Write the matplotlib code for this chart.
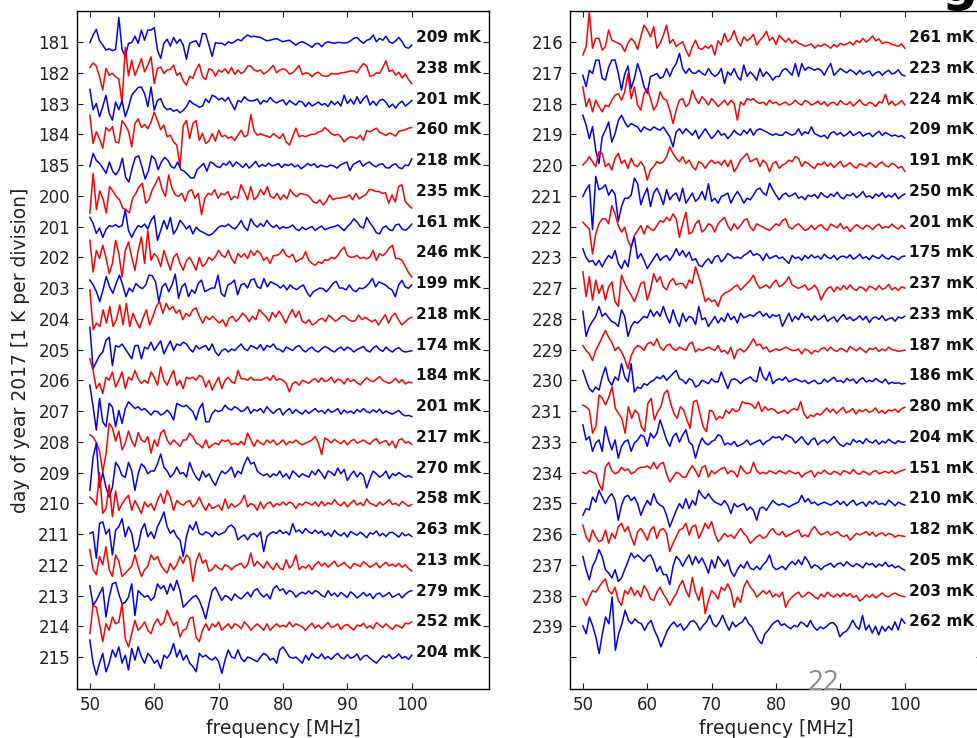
import numpy as np
import matplotlib
matplotlib.use("Agg")
import matplotlib.pyplot as plt

# Residual spectra, one list per day, in units of 10 mK, sampled evenly 50-100 MHz
d181 = [-2,23,41,4,-10,-26,-22,-28,-24,80,-24,-47,-4,-2,19,-4,39,6,39,39,47,-26,-53,-4,9,-13,15,-4,9,-10,-56,-4,1,4,-15,28,26,-10,-47,-2,-4,-4,-10,1,-4,1,9,4,15,23,17,19,17,15,9,4,6,9,11,6,1,4,6,-2,-10,-2,1,-4,-10,-17,-6,-4,-15,-4,1,-2,-4,-1,-2,-3,-2,4,12,15,4,-4,6,9,23,1,12,6,19,1,-4,4,15,1,-17,-20,-10]
d182 = [17,32,22,-13,-56,14,-8,-2,-13,-20,-99,83,-10,41,-8,17,46,3,25,52,-35,14,19,-2,9,11,25,-8,0,-26,-40,-11,-18,11,28,-13,-22,13,9,-11,9,2,13,-2,17,-5,9,-2,4,22,22,9,5,9,-4,3,13,24,0,9,13,9,-4,0,11,24,-6,0,-2,-13,-2,2,-8,-11,-11,-2,-4,-4,0,1,3,6,6,0,17,30,22,-11,-9,0,-2,17,39,4,9,-8,2,-17,-4,-22,-35]
d183 = [46,-20,0,-43,-10,27,-32,-54,5,-20,10,-43,-12,27,40,52,54,32,-10,54,-22,10,16,-10,-20,-16,-25,-20,-30,-22,-10,10,0,-5,-12,-8,15,3,27,22,12,18,8,20,0,-20,10,5,22,12,8,10,15,-2,10,5,20,8,2,8,12,-5,10,2,-5,8,5,-10,4,-8,-2,5,-5,0,-10,8,-4,6,-8,27,0,14,-2,22,0,16,26,-5,8,-6,10,14,4,-12,-2,-15,0,8,-8,0,10]
d184 = [62,-30,8,-15,-45,22,10,25,-25,-28,44,30,10,-41,35,50,22,32,18,40,72,45,15,30,-8,-3,-25,-35,-106,28,45,-14,35,45,-20,3,-30,-22,2,-22,13,-8,-3,-13,-8,-20,-3,13,-8,-3,64,12,-3,2,-3,-6,-10,2,-6,-14,2,-25,-35,-8,20,-8,-4,-8,-3,0,0,8,10,22,13,2,-3,0,-8,-25,-14,-8,-10,-14,-3,-20,12,8,14,20,6,2,-4,4,0,-6,10,12,15,20,22]
d185 = [-5,38,15,5,-10,-27,10,-20,-32,-15,22,-40,-55,-10,25,30,-5,-45,-20,30,20,-15,10,25,15,-5,-10,10,-15,-20,-30,-42,-42,-15,-5,5,-20,10,5,-5,-8,5,0,12,-5,10,2,-8,5,-10,0,12,-6,2,-4,6,-3,0,5,-8,3,-2,4,-6,0,-12,-4,5,-2,4,-8,0,-4,-6,0,-3,-10,0,5,10,-18,2,8,14,-4,5,10,0,-6,2,4,-8,-10,0,4,-8,-12,0,-2,20]
d200 = [-56,73,-45,16,-10,-56,30,15,-2,-13,-40,-45,-56,-8,8,30,41,-24,-13,20,40,62,20,-2,68,25,3,-2,8,-18,14,20,-8,8,-61,-8,8,3,20,-8,8,3,14,-13,-2,-8,36,14,-13,30,-13,-2,20,3,30,-2,-8,8,-13,3,-10,20,5,-3,8,5,3,-5,-20,-24,-13,-30,-18,3,-13,-8,-8,-5,-4,3,-13,8,-10,-2,3,20,20,14,14,8,10,-24,3,-20,30,36,-18,-30,-40]
d201 = [30,10,-22,-5,-35,-10,3,0,6,-2,3,54,-13,-35,-13,3,-2,8,-8,20,35,-45,-13,20,-8,30,-24,-8,20,8,-8,3,-24,-2,-13,-18,-24,-29,-24,-13,-2,3,0,8,-2,-8,3,20,-2,-13,25,8,-2,10,0,20,5,-3,5,-8,0,-5,-2,5,-8,-13,-2,-10,-5,0,-13,-5,2,-10,-6,-2,0,5,-4,-13,0,10,25,15,0,-5,30,12,-2,-20,-24,-4,2,-10,-13,5,8,-8,-12,-4,8]
d202 = [55,-48,22,-4,39,0,-53,-20,55,12,-64,22,50,0,-42,22,66,-20,87,-10,12,0,-30,22,-10,-42,0,12,-20,-42,-10,0,-20,-42,0,-30,-20,0,-10,2,23,6,0,22,-4,-20,12,0,12,-4,22,6,22,12,-10,0,-20,5,6,12,26,6,0,10,-15,-8,-4,18,-10,-20,-26,-15,-20,-8,-10,0,-5,6,22,33,6,0,1,6,-4,0,-5,1,22,-10,12,5,15,30,39,-4,-4,-10,-30,-50,-64]
d203 = [26,10,-12,-44,-6,37,4,-17,15,42,10,-28,0,-12,15,4,-2,10,42,40,20,-44,4,15,-12,10,45,-33,4,15,-28,-6,-17,15,26,-12,-6,0,0,42,-17,-28,10,15,26,-22,10,15,0,26,30,4,-1,31,4,20,15,10,0,10,-6,10,0,-5,4,10,-12,-28,-12,-6,0,-2,-12,0,15,22,0,0,-6,10,-6,-12,0,-2,4,15,31,4,20,15,10,0,-6,-28,10,25,4,-1,10]
d204 = [94,-35,-14,-25,29,-14,40,-25,-3,45,-20,50,-25,18,-9,-30,2,29,-20,8,40,56,18,50,29,40,18,29,-3,18,8,29,35,8,-14,8,-3,8,-3,-14,-3,-25,2,8,-9,2,18,8,-9,8,-3,30,18,8,-8,20,5,25,8,-14,10,30,5,25,-8,-14,-3,-20,-14,-3,2,-9,12,2,-8,0,10,8,-3,-8,-6,12,-3,5,-3,-10,-3,-20,-3,13,-14,8,18,-3,-20,-10,0,5]
d205 = [72,-63,-40,-20,-8,30,40,-52,13,8,18,2,-14,-30,13,13,-30,8,2,24,-3,13,28,-14,8,28,-3,18,13,24,18,2,-8,13,2,8,13,-3,18,-8,-20,-3,2,-8,2,-3,8,18,2,-3,13,8,2,16,-3,13,8,18,2,0,-8,8,2,-3,8,13,0,-8,2,8,-3,-8,2,10,5,-3,-8,2,8,-3,8,2,-8,0,5,10,-3,-8,5,12,0,-6,8,-2,-8,2,6,-4,-8,-6,-4]
d206 = [70,32,-27,-10,-43,10,0,27,-22,0,27,-27,10,0,32,5,-10,0,-10,27,10,-16,43,0,-16,10,32,-16,0,-27,10,5,10,0,16,10,-22,0,-32,-10,10,-27,0,10,-5,-10,32,5,5,0,10,0,2,0,5,10,0,16,0,5,0,-10,-38,-10,-5,-16,0,-5,-10,0,5,-6,8,-4,0,10,-8,4,0,-12,6,-4,2,-8,-15,-2,8,0,-5,4,12,0,-6,-10,-4,6,-8,2,-12,-6,-8]
d207 = [84,14,-62,41,-35,-51,25,13,-51,2,-40,8,30,19,8,14,3,8,-2,-13,0,-2,-13,-8,3,-8,-29,25,19,14,19,8,-2,-29,8,25,-35,-35,-8,3,-2,3,19,8,3,14,8,-2,3,14,-8,5,0,8,-6,14,2,-8,3,8,-13,0,8,-8,5,-4,-10,3,-8,0,8,-3,2,-8,6,-4,0,8,-10,3,-6,0,-8,5,-3,8,-2,-6,4,-4,6,-8,0,-6,-10,-4,2,-10,-16,-14,-18]
d208 = [23,15,-2,-30,-98,-40,60,45,2,35,-26,-4,35,2,-15,30,6,-1,17,-37,6,-15,28,39,6,-10,6,-4,-15,6,6,28,17,-4,-10,-20,6,-20,-10,-4,-10,6,1,6,-10,-4,-10,1,-10,28,6,-15,6,-4,-10,6,-4,6,-10,-4,6,-10,1,-4,6,-4,-10,-4,0,6,17,-4,-42,12,6,-4,8,0,-6,4,-10,2,8,-4,0,6,-2,-8,4,10,-6,0,4,-12,2,-20,6,10,-4,0,-8]
d209 = [-58,50,95,-48,0,-48,-80,-48,33,18,-10,-15,33,5,-58,-4,28,18,-4,5,5,28,60,18,5,-15,-4,18,-4,0,-15,33,5,-15,-26,5,-15,-4,-26,-42,-15,5,-4,5,18,-15,5,-4,28,50,28,33,5,-4,-10,-4,-15,-4,-10,5,-15,-4,-20,5,-4,-15,-4,-10,-15,5,-8,10,-4,-20,5,0,-10,15,-4,10,-26,-8,5,-15,0,-10,-50,-20,5,-4,-15,-8,5,-20,-4,-10,0,-8,-15,-10,-15]
d210 = [20,10,-6,100,-33,-17,60,-44,40,-23,-2,14,26,-23,9,-12,-33,4,-12,-1,-23,9,31,-1,42,20,-23,9,-1,-6,4,9,-12,-1,20,-6,-23,-1,-17,-12,-6,-23,14,-17,-1,-12,-6,4,26,-12,-1,-6,-23,4,-17,-1,4,-12,-1,-6,4,-6,4,-1,-17,-1,-6,4,0,-6,4,-10,6,-8,2,-4,12,-2,-8,4,-12,0,10,-6,2,-8,14,0,-4,-10,4,-6,2,12,-4,0,-8,6,-2,-10,-4]
d211 = [2,7,-79,34,40,0,16,-68,13,24,50,-9,24,2,-57,-41,13,34,-9,7,-14,24,45,72,24,2,13,-9,-19,-73,-9,29,13,40,2,-3,7,2,-9,7,-3,2,7,24,29,18,-19,-9,-3,-19,-3,2,-9,7,-57,-9,2,7,2,13,2,7,-3,34,7,13,2,18,7,2,13,2,10,-5,4,-8,12,0,-6,4,-10,8,2,-4,6,-2,-12,4,0,10,-6,2,-8,4,6,-2,-10,4,-6,0,-8]
d212 = [49,-16,-32,27,0,59,-16,-38,32,11,-38,-27,-16,-5,32,-5,-38,-16,-5,32,16,27,0,-16,-27,5,-16,0,27,5,32,21,-54,11,38,5,16,-21,-16,0,-11,-16,0,-5,-16,-5,0,5,-11,0,38,-5,11,0,-11,11,-5,-16,5,-11,-16,16,-11,0,32,-16,-5,-11,0,-16,0,10,-4,6,-8,2,12,-6,0,8,-4,-12,4,0,-6,10,2,-8,-2,6,-10,0,8,-4,2,-6,4,-8,0,-12,-20]
d213 = [32,-32,-16,5,27,-70,-5,38,43,5,-27,-22,-5,38,-65,16,5,-5,0,-16,-5,38,22,32,5,38,16,49,16,-38,-27,-16,-5,0,-16,-43,-76,-27,16,27,5,-16,0,-5,-16,5,-5,-11,0,11,-5,16,22,5,-5,5,-11,22,32,16,22,5,16,11,-5,5,11,5,15,5,16,11,0,-5,16,0,8,-4,10,2,-6,12,4,-8,0,10,-2,6,-10,4,8,-4,2,10,-6,0,6,-8,4,12,16]
d214 = [-24,68,62,8,-50,8,-13,30,8,14,73,-40,-67,-24,19,-13,-2,14,-13,-24,8,24,3,14,52,24,3,14,-35,-13,-8,25,30,-35,-50,-13,8,-13,8,-2,14,-13,-2,8,-8,8,3,-8,14,3,-13,-2,8,-2,-13,8,-13,-2,8,-2,3,-2,14,-2,8,3,-2,-13,0,10,-6,4,-8,2,12,-4,0,8,-10,2,6,-4,-12,4,0,10,-6,2,-8,12,4,-4,8,-2,-10,4,0,-6,10,8,14]
d215 = [55,-20,-58,-20,12,-48,-20,23,0,33,-20,6,-42,28,-10,33,0,-20,12,0,-20,-10,-37,6,-4,12,44,0,23,-10,6,-20,-31,-48,12,0,6,-4,-10,0,-15,-53,-10,23,0,-4,23,-4,-15,0,-4,-10,-15,0,12,6,-10,-4,-20,23,33,17,0,-4,0,-10,-20,6,-10,12,0,-4,10,-6,2,-8,4,12,-2,-6,8,-4,0,10,-10,2,6,-4,-12,-20,-8,4,-2,8,-6,0,10,-4,2,-8,6]

d216 = [-42,-15,98,-20,12,12,-26,-15,39,6,1,-4,-10,-31,-4,12,1,-24,17,55,39,17,50,-20,-4,22,55,-4,9,-15,-6,1,-26,-47,-15,6,-20,-24,-13,-20,-10,-42,4,-10,28,1,12,37,4,-13,17,4,12,25,-10,6,17,35,5,15,-8,22,10,0,12,-4,6,-4,-8,-14,-10,-6,-20,-10,-14,-6,-12,-20,-8,-16,-4,-10,-6,0,-10,5,-2,12,0,8,20,4,10,-5,0,-2,-8,-10,-14,-6,-20]
d217 = [-8,-45,8,-2,41,41,-18,-24,18,41,42,-2,-56,-4,22,-51,-18,30,-2,-45,-67,-12,-8,-2,-18,-12,14,-12,14,30,63,14,-2,14,0,-2,8,-2,-8,14,-2,-12,-4,14,-35,3,-8,14,-12,-24,25,-12,3,-8,-24,14,-12,3,-8,-24,-12,-12,8,14,3,-8,30,-12,30,8,18,14,8,14,8,-8,14,30,-8,3,14,6,0,10,4,-6,8,-4,2,6,-10,0,4,-8,2,8,-4,0,10,-6,-10]
d218 = [54,-10,16,-27,11,-10,-27,-5,-10,11,27,32,11,38,97,16,54,-5,-21,32,49,16,-21,-5,38,16,11,-21,-65,-21,11,16,-10,0,43,16,0,22,11,-5,16,5,-10,0,11,-5,11,0,-54,5,-5,16,11,16,5,0,5,-5,11,0,5,-5,0,5,-5,0,11,0,-5,10,5,-5,0,8,-4,6,-8,2,4,-6,10,0,-4,6,-8,2,12,-2,-6,4,0,-10,6,2,30,-4,8,-6,0,10,-4]
d219 = [62,30,-14,25,-52,-95,-8,13,40,-25,2,45,62,40,24,35,29,24,8,24,17,13,24,18,13,24,8,-8,-41,8,18,2,18,8,-3,13,-14,2,18,2,-14,-3,13,-3,2,-14,-3,13,2,-3,13,2,18,-3,13,18,13,8,2,-3,2,-3,-3,8,2,-3,2,18,-3,8,2,24,2,-3,-8,-3,-14,4,8,-2,6,-6,0,10,-4,2,8,-6,0,4,-8,2,10,-4,6,0,-6,-2,-8,-4,-12]
d220 = [0,11,27,11,-5,43,38,-5,5,-16,22,38,5,16,-11,22,0,-5,11,-5,-49,-16,-5,11,5,11,27,59,38,22,11,27,5,16,-5,-16,11,5,-11,5,16,5,11,0,16,-5,16,-22,-5,16,27,38,11,16,22,-5,16,5,-22,5,11,-11,0,5,16,11,27,22,-5,11,5,-5,-11,5,0,10,-4,6,-8,2,12,-6,0,8,-4,-10,4,0,-6,8,2,-8,4,10,-2,-6,6,0,-10,-4,-20]
d221 = [-2,20,36,-110,63,20,25,36,2,20,5,-83,-35,-8,-8,2,57,40,-29,2,25,-35,9,25,2,-29,20,-13,2,9,-18,25,-24,-8,9,-18,-8,14,-13,39,-18,-8,-24,-2,2,9,-24,-2,14,-2,-24,-8,-13,2,20,25,9,2,41,20,2,-13,2,9,-2,2,9,-8,-2,-13,2,-2,4,-8,10,0,-6,6,-2,12,-4,-10,4,0,8,-6,2,14,-4,0,-8,6,-2,10,-6,2,-4,8,-10,0,6]
d222 = [14,3,-8,-89,-24,9,25,25,9,68,41,3,-18,-2,-45,-67,-29,-13,3,-24,3,-8,-13,3,19,14,30,19,41,25,-35,9,46,-24,-18,9,20,-18,-8,9,3,-18,9,20,30,3,-13,9,-8,3,20,25,-2,-13,9,3,-2,-8,-13,-2,9,3,20,25,-2,-8,3,9,-2,-13,-8,4,-10,0,6,-6,-12,8,2,-4,10,-8,0,-16,-4,6,-2,-8,4,0,-10,2,8,-6,0,-4,8,-2,-8,4,-6]
d223 = [28,-1,-15,-10,-26,-10,-31,-10,6,-4,22,-20,-37,-10,-31,33,66,-4,12,-10,-37,-20,-4,12,-10,0,6,-10,6,28,6,22,1,17,-10,-4,-26,-31,-15,-4,-20,1,6,-15,-4,12,6,-4,1,-4,6,12,22,6,12,6,-10,12,-4,1,6,-4,1,-10,-20,6,-4,1,-10,6,-4,8,-2,4,-6,10,0,-4,6,-8,2,4,-2,8,-6,0,10,-4,2,-8,6,0,-4,8,-2,-6,4,0,-8,2,4]
d227 = [53,-28,37,-39,26,-17,10,-39,4,20,-44,-60,42,15,-6,-23,-44,-17,15,20,-39,-6,47,20,37,4,-6,20,31,10,15,15,-1,26,15,69,37,-1,-44,-33,-44,-39,-60,-28,-17,-12,-6,4,10,-6,4,15,26,42,15,-1,4,10,-1,15,26,4,10,20,37,10,4,-1,4,10,-6,-1,10,-6,-39,-17,-1,4,-12,4,-6,8,-4,10,-2,-8,4,0,-10,6,2,-6,8,-4,0,12,-6,2,-8,4,0]
d228 = [24,-57,-25,-8,8,40,8,18,3,-9,-14,-25,29,8,-57,-25,-9,-14,-3,8,3,29,8,24,8,40,8,-14,29,-3,-25,18,-9,8,3,-19,40,-3,3,-25,-9,8,-14,3,-9,18,-3,8,-14,18,3,8,13,8,18,24,8,18,3,13,8,13,-25,-3,18,-9,8,-3,18,3,8,-6,10,-4,2,12,-8,0,6,-10,4,14,-2,6,-6,0,10,-4,8,-12,2,6,-2,10,-6,0,4,-8,6,2,8]
d229 = [13,-3,-14,-36,-3,18,40,62,40,24,-3,8,-8,-30,-63,-20,2,13,8,-3,18,24,13,35,8,-3,13,18,2,-3,8,2,-3,18,24,-8,2,-3,2,8,2,-3,13,-8,-3,-14,8,-30,-3,2,-8,2,18,35,13,18,2,8,-8,-3,2,-3,2,8,2,-3,-3,2,-14,2,-3,-14,-3,-8,2,6,-4,8,-2,-6,4,0,-8,10,2,-4,6,-2,-10,4,0,6,-6,2,-4,8,0,-2,-6,-4,-2]
d230 = [32,0,-27,-38,-22,-32,11,43,0,-16,11,0,54,11,-5,54,-38,-22,-27,-11,-16,-5,0,11,5,16,0,11,22,32,5,0,-11,5,0,-22,-16,0,-5,-11,5,-5,-5,27,0,-27,0,5,0,-11,0,5,11,0,-5,43,11,0,27,-11,0,5,0,11,-5,0,5,0,-5,0,-11,-5,0,-11,-10,4,-6,2,10,-4,0,-8,6,-2,4,-10,2,8,-6,0,-4,6,-2,-8,4,-12,-6,-10,-8,-12,-10]
d231 = [19,14,3,-72,-51,52,41,20,46,79,8,-8,-25,-72,14,-24,3,-8,-51,-67,25,41,-29,-2,14,57,68,25,-8,-24,14,3,-29,-56,30,35,-8,-51,-67,3,-2,-29,-18,-24,3,-8,8,-2,3,30,25,25,20,8,30,-2,14,3,8,3,-8,-2,3,-8,3,8,3,30,-8,-24,-13,-18,-8,-13,-2,10,-4,6,-8,2,12,-6,0,8,-10,4,-2,6,-4,0,10,-6,2,-8,4,0,6,-4,8,12]
d233 = [55,6,17,-31,-4,6,-31,50,6,-26,6,-53,-15,1,6,-31,-4,6,22,17,-15,28,12,28,71,39,6,-15,17,28,-1,22,39,-1,-10,-53,-15,12,-4,-10,1,6,23,17,-10,-4,-10,1,-15,-10,-4,6,-10,-4,1,6,-10,1,6,17,12,17,6,23,17,12,-4,6,17,1,-10,6,12,-10,1,6,-4,6,17,1,-10,-15,-4,-10,8,-2,4,-6,10,0,-4,6,-8,2,-4,8,0,-6,4,-2,0]
d234 = [1,-4,6,1,-4,-37,-58,17,33,6,-4,1,17,6,12,-4,1,12,17,17,22,12,33,12,28,33,-4,-31,-15,1,-4,-15,-15,6,22,6,-15,17,22,-15,6,-4,6,12,17,-4,6,1,-15,22,6,-4,1,33,6,-4,1,-4,6,1,-4,6,1,-4,6,1,-4,1,-15,-4,1,6,-15,1,-4,8,-2,-6,4,0,-8,6,2,-4,10,-2,-6,4,0,-8,2,6,-4,0,4,-2,6,-4,2,6,10]
d235 = [-39,-17,-22,20,4,42,20,-1,20,31,9,-55,-6,20,26,9,20,-1,-39,-12,9,-6,31,4,-6,-12,-39,-77,-50,-23,-1,-17,15,-17,9,-6,42,26,15,31,15,4,-1,-6,9,-6,-33,-1,-12,-6,-1,-23,-12,-23,-55,-17,-12,-23,-6,9,-1,-6,-1,-6,-12,-6,-1,4,26,4,15,-1,4,-6,-1,4,-1,-6,0,8,-4,6,-8,2,10,-6,0,4,-10,6,-2,8,-4,0,-6,10,2,-8,4,-2,-6]
d236 = [29,-9,-25,13,-9,-25,-20,13,-30,2,-14,24,35,8,24,-9,-36,8,18,2,-20,13,24,-14,13,18,2,-57,-30,-9,13,18,35,-3,24,29,-14,8,35,18,40,2,-25,-14,2,-9,-3,-14,2,18,2,-9,-30,-20,-9,-3,-14,-9,8,18,2,-3,8,-9,-3,2,8,13,-9,-3,-9,13,24,8,-3,2,8,-3,2,8,-3,-9,-3,-20,-9,2,-3,2,8,-4,6,-8,0,4,-6,2,-2,-10,-4,-6,-8]
d237 = [27,-16,-49,-5,16,49,27,-16,-27,-43,-16,-54,-43,-16,11,38,22,32,22,11,27,32,11,-22,-5,-32,-32,-65,-5,27,16,-5,16,32,0,27,5,22,0,-27,16,-11,27,11,-5,16,-22,-38,-16,0,-11,11,-11,-16,-5,-16,0,11,32,-5,-16,-11,-5,-16,0,11,0,16,0,27,11,-11,0,-5,-16,-5,0,5,-8,2,6,-4,10,0,-6,4,-2,-10,6,0,4,-8,2,-4,8,-6,0,-10,-4,-12,-18]
d238 = [-11,-32,-5,16,11,27,43,54,16,5,27,-16,-32,16,5,27,0,16,-5,32,16,-11,-16,11,27,5,-11,-32,-11,5,32,49,16,-5,59,11,-16,27,-59,-16,16,5,-11,27,16,38,16,-38,-5,-22,27,49,27,16,-5,5,16,5,16,-5,5,-5,11,-38,-16,-5,5,11,-5,0,11,5,-5,-11,5,-5,11,0,-5,5,-4,8,-2,6,-6,0,-18,-10,2,-6,4,-8,0,8,-2,-4,4,8,2,-2,-4]
d239 = [1,-24,30,2,-35,-89,-24,30,8,95,-78,-24,8,52,20,8,24,13,8,-13,8,19,-13,-35,-67,-40,-13,3,14,-2,8,-13,-2,14,19,8,-13,3,14,36,8,-2,14,36,8,-13,14,-2,8,14,30,8,-2,-24,-45,-57,-24,-13,3,14,19,3,8,-2,-8,3,-2,14,8,-2,19,-2,-13,-2,-8,0,10,12,0,-34,-22,-16,-2,20,0,-10,35,-12,4,-22,0,-28,0,-16,0,-12,14,-12,25,10]

left_days = ["181", "182", "183", "184", "185", "200", "201", "202", "203", "204", "205",
             "206", "207", "208", "209", "210", "211", "212", "213", "214", "215"]
left_rms = [209, 238, 201, 260, 218, 235, 161, 246, 199, 218, 174,
            184, 201, 217, 270, 258, 263, 213, 279, 252, 204]
left_traces = [d181, d182, d183, d184, d185, d200, d201, d202, d203, d204, d205,
               d206, d207, d208, d209, d210, d211, d212, d213, d214, d215]

right_days = ["216", "217", "218", "219", "220", "221", "222", "223", "227", "228",
              "229", "230", "231", "233", "234", "235", "236", "237", "238", "239"]
right_rms = [261, 223, 224, 209, 191, 250, 201, 175, 237, 233,
             187, 186, 280, 204, 151, 210, 182, 205, 203, 262]
right_traces = [d216, d217, d218, d219, d220, d221, d222, d223, d227, d228,
                d229, d230, d231, d233, d234, d235, d236, d237, d238, d239]

freq_ticks = [50, 60, 70, 80, 90, 100]

plt.rcParams.update({
    "font.family": ["DejaVu Sans"],
    "xtick.direction": "in",
    "ytick.direction": "in",
    "xtick.top": True,
    "ytick.right": True,
    "xtick.major.size": 4,
    "ytick.major.size": 4,
    "xtick.major.pad": 5,
    "ytick.major.pad": 5,
    "axes.linewidth": 1.0,
})

W, H = 978, 738
fig = plt.figure(figsize=(W / 100, H / 100), dpi=100)

ax_l = fig.add_axes([77 / W, 1 - 689 / H, 412 / W, 678 / H])
ax_r = fig.add_axes([570 / W, 1 - 689 / H, 412 / W, 678 / H])


def draw_panel(ax, days, rms, traces, start):
    for k, vals in enumerate(traces):
        v = np.asarray(vals, dtype=float) / 100.0   # 10 mK units -> K
        f = np.linspace(50, 100, len(v))
        color = "#0000ff" if (start + k) % 2 == 0 else "#ff0000"
        ax.plot(f, k - v, color=color, lw=1.1, solid_joinstyle="round")
        ax.text(100.6, k, f"{rms[k]} mK", fontsize=11, fontweight="bold",
                va="baseline", ha="left", color="#111111")
    ax.set_xlim(48, 112)
    ax.set_ylim(21.04, -1.01)
    ax.set_xticks(freq_ticks)
    ax.set_yticks(range(21))
    ax.set_yticklabels(days + [""] * (21 - len(days)))
    ax.tick_params(labelsize=12, colors="#222222")
    ax.set_xlabel("frequency [MHz]", fontsize=13.5, color="#222222", labelpad=4)


draw_panel(ax_l, left_days, left_rms, left_traces, 0)
draw_panel(ax_r, right_days, right_rms, right_traces, len(left_traces))
ax_l.set_ylabel("day of year 2017 [1 K per division]", fontsize=13.5, color="#222222", labelpad=6)

# slide page number
fig.text(808 / W, 1 - 690 / H, "22", fontsize=20, color="#8a8a8a",
         family=["Open Sans", "DejaVu Sans"], va="baseline", ha="left")

# descender of the slide title, cut by the top edge
fig.text(942 / W, 1 - 1 / H, "g", fontsize=36, fontweight="bold", color="black",
         va="baseline", ha="left")

fig.savefig("out.png", dpi=100)
